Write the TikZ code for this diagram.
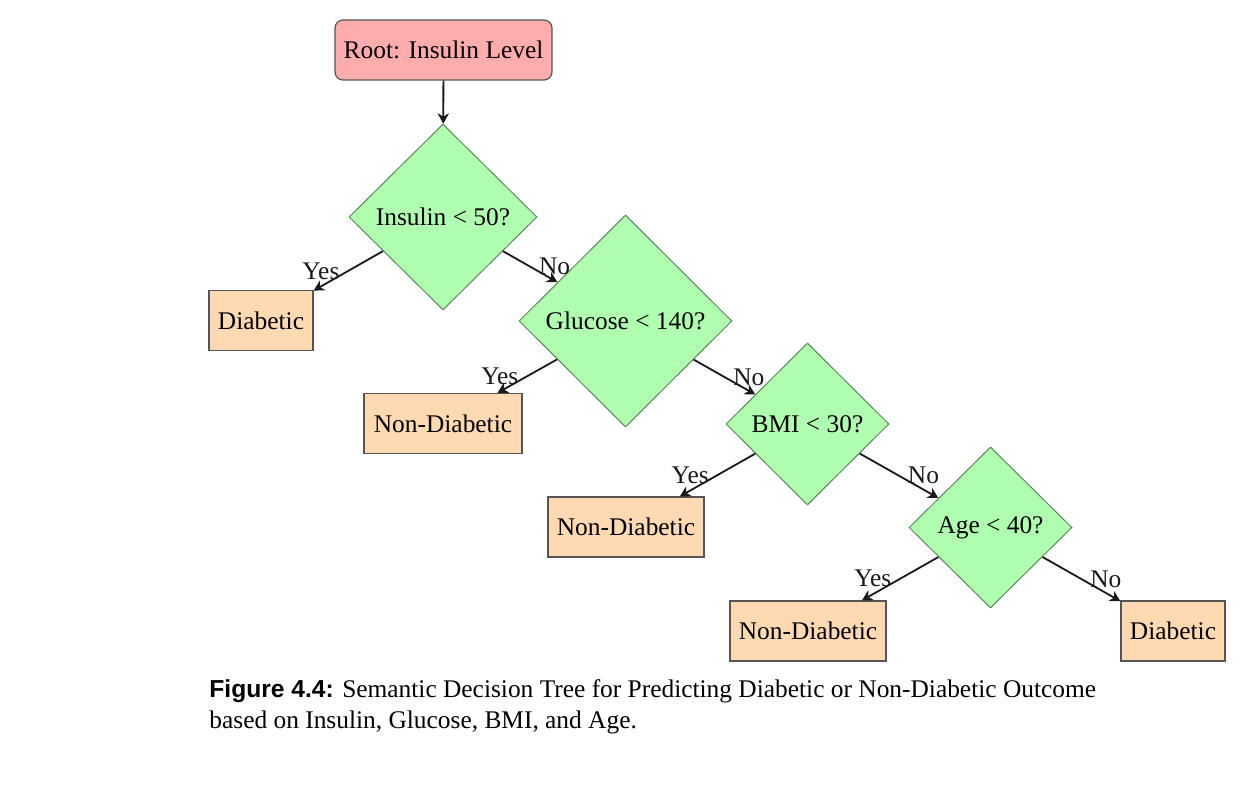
\documentclass[tikz,border=0pt]{standalone}
\usepackage{fontspec}
\setmainfont{Liberation Serif}
\newfontfamily\capsans{Liberation Sans}
\usetikzlibrary{shapes.geometric,arrows.meta}
\definecolor{rootfill}{RGB}{255,172,172}
\definecolor{leaffill}{RGB}{255,217,178}
\definecolor{decfill}{RGB}{176,255,176}
\definecolor{decline}{RGB}{95,135,95}
\definecolor{boxline}{RGB}{85,85,85}
\begin{document}
\begin{tikzpicture}[x=0.5pt,y=-0.5pt,
  every node/.style={font=\fontsize{12.7}{15}\selectfont},
  rootbox/.style={rectangle, rounded corners=4pt, draw=boxline, fill=rootfill, line width=0.6pt, minimum width=108.5pt, minimum height=30pt},
  leafbox/.style={rectangle, draw=boxline, fill=leaffill, line width=0.6pt, minimum height=30pt},
  decision/.style={diamond, draw=decline, fill=decfill, line width=0.5pt, inner sep=0pt},
  edge/.style={-{Stealth[length=5.2pt,width=5.6pt,inset=1.6pt]}, line width=0.9pt, black!90},
  lbl/.style={midway, inner sep=4pt}
]
\useasboundingbox (0,0) rectangle (1248,791);
\node[rootbox] (root) at (443.5,50) {Root: Insulin Level};
\node[decision, minimum width=94pt, minimum height=93pt] (d1) at (443,217) {Insulin < 50?};
\node[leafbox, minimum width=52pt] (l1) at (261,320.5) {Diabetic};
\node[decision, minimum width=106.5pt, minimum height=106pt] (d2) at (625.5,321) {Glucose < 140?};
\node[leafbox, minimum width=79pt] (l2) at (443,423.5) {Non-Diabetic};
\node[decision, minimum width=81.5pt, minimum height=81pt] (d3) at (807.5,424) {BMI < 30?};
\node[leafbox, minimum width=78pt] (l3) at (626,527) {Non-Diabetic};
\node[decision, minimum width=81.5pt, minimum height=80.5pt] (d4) at (990.5,527.5) {Age < 40?};
\node[leafbox, minimum width=78pt] (l4) at (808,631) {Non-Diabetic};
\node[leafbox, minimum width=52pt] (l5) at (1173,631) {Diabetic};

\draw[edge] (root) -- (d1);
\draw[edge] (d1) -- node[lbl,left] {Yes} (l1);
\draw[edge] (d1) -- node[lbl,right] {No} (d2);
\draw[edge] (d2) -- node[lbl,left] {Yes} (l2);
\draw[edge] (d2) -- node[lbl,right] {No} (d3);
\draw[edge] (d3) -- node[lbl,left] {Yes} (l3);
\draw[edge] (d3) -- node[lbl,right] {No} (d4);
\draw[edge] (d4) -- node[lbl,left] {Yes} (l4);
\draw[edge] (d4) -- node[lbl,right] {No} (l5);

\node[anchor=base west, inner sep=0pt] (cap1) at (209,697) {{\capsans\bfseries\fontsize{12.3}{15}\selectfont Figure 4.4:} Semantic Decision Tree for Predicting Diabetic or Non-Diabetic Outcome};
\node[anchor=base west, inner sep=0pt] (cap2) at (209,728) {based on Insulin, Glucose, BMI, and Age.};
\end{tikzpicture}
\end{document}
